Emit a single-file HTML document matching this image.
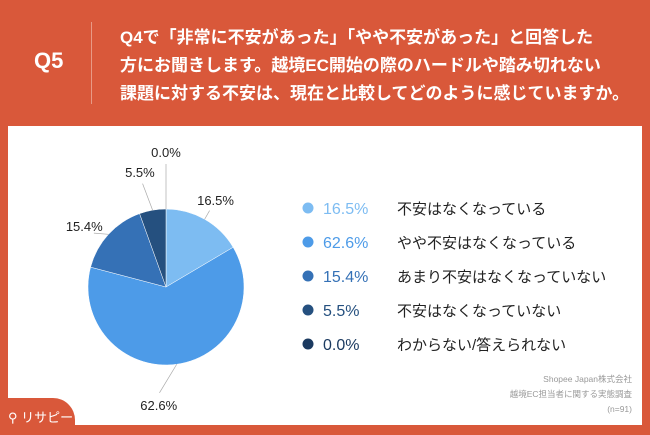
<!DOCTYPE html>
<html><head><meta charset="utf-8"><style>
body{margin:0;width:650px;height:435px;overflow:hidden;background:#d9583a;font-family:"Liberation Sans","Noto Sans CJK JP",sans-serif}
#wrap{position:relative;width:650px;height:435px}
.q{position:absolute;left:34px;top:48px;color:#fff;font-size:22px;font-weight:bold}
.sep{position:absolute;left:91px;top:22px;width:1px;height:82px;background:#e89a86}
.title{position:absolute;left:120px;top:24px;color:#fff;font-size:17px;line-height:28px;font-weight:bold;letter-spacing:0}
.panel{position:absolute;left:8px;top:126px;width:634px;height:299px;background:#fff}
.src{position:absolute;right:18px;top:372px;text-align:right;color:#999;font-size:8.5px;line-height:15px}
.logo{position:absolute;left:0;top:398px;width:75px;height:37px;background:#d9583a;border-top-right-radius:22px;color:#fff;font-size:13px;padding:9px 0 0 8px;box-sizing:border-box;white-space:nowrap}
</style></head><body><div id="wrap">
<div class="q">Q5</div>
<div class="sep"></div>
<div class="title">Q4で「非常に不安があった」「やや不安があった」と回答した<br>方にお聞きします。越境EC開始の際のハードルや踏み切れない<br>課題に対する不安は、現在と比較してどのように感じていますか。</div>
<div class="panel"></div>
<svg id="chart" width="650" height="435" style="position:absolute;left:0;top:0"></svg>
<div class="src">Shopee Japan株式会社<br>越境EC担当者に関する実態調査<br>(n=91)</div>
<div class="logo">⚲ リサピー</div>
</div>
<script>
const categories=["不安はなくなっている","やや不安はなくなっている","あまり不安はなくなっていない","不安はなくなっていない","わからない/答えられない"];
const values=[16.5,62.6,15.4,5.5,0.0];
const valueLabels=["16.5%","62.6%","15.4%","5.5%","0.0%"];
const colors=["#7dbcf2","#4d9be8","#3571b6","#25507f","#1b3a60"];
const labelR=[100,118,102,118,135];
const labelShift=[0,0.2,-0.1,-0.05,0];
const NS="http://www.w3.org/2000/svg";
const svg=document.getElementById('chart');
const cx=166,cy=287,r=78;
const total=values.reduce((a,b)=>a+b,0);
function pt(a,rad){return [cx+rad*Math.sin(a),cy-rad*Math.cos(a)];}
function mk(t,attrs){const e=document.createElementNS(NS,t);for(const k in attrs)e.setAttribute(k,attrs[k]);svg.appendChild(e);return e;}
let acc=0;
values.forEach((v,i)=>{
  const a0=acc/total*2*Math.PI;acc+=v;const a1=acc/total*2*Math.PI;
  if(v>0){
    const p0=pt(a0,r),p1=pt(a1,r);
    const s=mk('path',{d:`M${cx},${cy}L${p0[0]},${p0[1]}A${r},${r} 0 ${a1-a0>Math.PI?1:0} 1 ${p1[0]},${p1[1]}Z`,fill:colors[i],stroke:'#fff','stroke-width':0.5});
    
    
  }
  const am=(a0+a1)/2;
  const al=am+labelShift[i];
  const e=pt(am,r),l=pt(al,labelR[i]-12);
  const ln=mk('line',{x1:e[0],y1:e[1],x2:l[0],y2:l[1],stroke:'#aaa','stroke-width':0.7});
  
  
  const lp=pt(al,labelR[i]);
  const tx=mk('text',{x:lp[0],y:lp[1]+5,'text-anchor':'middle','font-size':13,fill:'#222'});
  tx.textContent=valueLabels[i];
  
  
  const y=208+i*34;
  const c=mk('circle',{cx:308,cy:y,r:5.5,fill:colors[i]});
  
  
  const pv=mk('text',{x:323,y:y+6,'font-size':16,fill:colors[i]});
  pv.textContent=valueLabels[i];
  
  
  const lb=mk('text',{x:397,y:y+6,'font-size':15,fill:'#222'});
  lb.textContent=categories[i];
  
  
});
</script></body></html>
